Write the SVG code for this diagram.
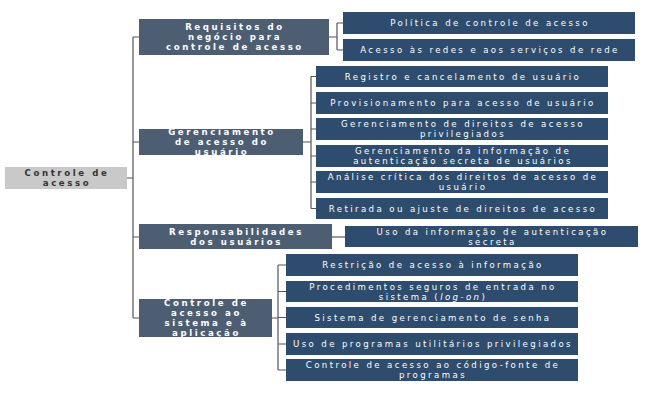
<svg xmlns="http://www.w3.org/2000/svg" width="662" height="404" viewBox="0 0 662 404">
<style>
.l1{fill:#4d5e73}
.l2{fill:#2e4c6d}
.root{fill:#c9c9c9}
text{font-family:"DejaVu Sans","Verdana",sans-serif;font-size:8.6px;letter-spacing:2.4px;text-anchor:middle;fill:#ffffff}
.b{font-weight:bold;letter-spacing:2.6px}
.dk{fill:#333333}
.c{fill:none;stroke:#555555;stroke-width:1.2}
</style>
<rect width="662" height="404" fill="#ffffff"/>
<g id="connectors">
<path class="c" d="M127 178H133M133 37V318M133 37H139M133 142H139M133 237H139M133 318H139"/>
<path class="c" d="M329 37H337M337 23V50M337 23H343M337 50H343"/>
<path class="c" d="M303 142H311M311 76.5V208.5M311 76.5H316M311 103H316M311 129H316M311 156H316M311 182H316M311 208.5H316"/>
<path class="c" d="M332 237H345"/>
<path class="c" d="M272 318H278M278 265V370M278 265H286M278 291.5H286M278 317.5H286M278 344H286M278 370H286"/>
</g>
<g id="root">
<rect class="root" x="5" y="167" width="122" height="22"/>
<text class="b dk" y="176"><tspan x="67">Controle de</tspan><tspan x="67" dy="10.1">acesso</tspan></text>
</g>
<g id="n1">
<rect class="l1" x="139" y="19" width="190" height="36"/>
<text class="b" y="30"><tspan x="235">Requisitos do</tspan><tspan x="235" dy="10.1">negócio para</tspan><tspan x="235" dy="10.1">controle de acesso</tspan></text>
</g>
<g id="n2">
<rect class="l1" x="139" y="129" width="164" height="26"/>
<text class="b" y="135"><tspan x="222">Gerenciamento</tspan><tspan x="222" dy="10.1">de acesso do</tspan><tspan x="222" dy="10.1">usuário</tspan></text>
</g>
<g id="n3">
<rect class="l1" x="139" y="224" width="193" height="25"/>
<text class="b" y="234.5"><tspan x="236.5">Responsabilidades</tspan><tspan x="236.5" dy="10.1">dos usuários</tspan></text>
</g>
<g id="n4">
<rect class="l1" x="139" y="299" width="133" height="38"/>
<text class="b" y="306"><tspan x="206.5">Controle de</tspan><tspan x="206.5" dy="10.1">acesso ao</tspan><tspan x="206.5" dy="10.1">sistema e à</tspan><tspan x="206.5" dy="10.1">aplicação</tspan></text>
</g>
<g id="n1a">
<rect class="l2" x="343" y="12" width="292" height="22"/>
<text x="490" y="26.1">Política de controle de acesso</text>
</g>
<g id="n1b">
<rect class="l2" x="343" y="39" width="292" height="22"/>
<text x="490" y="53.1">Acesso às redes e aos serviços de rede</text>
</g>
<g id="n2a">
<rect class="l2" x="316" y="66" width="292" height="21"/>
<text x="463" y="79.6">Registro e cancelamento de usuário</text>
</g>
<g id="n2b">
<rect class="l2" x="316" y="92" width="292" height="22"/>
<text x="463" y="106.1">Provisionamento para acesso de usuário</text>
</g>
<g id="n2c">
<rect class="l2" x="316" y="118" width="292" height="22"/>
<text y="127"><tspan x="463">Gerenciamento de direitos de acesso</tspan><tspan x="463" dy="10.1">privilegiados</tspan></text>
</g>
<g id="n2d">
<rect class="l2" x="316" y="145" width="292" height="22"/>
<text y="154"><tspan x="463">Gerenciamento da informação de</tspan><tspan x="463" dy="10.1">autenticação secreta de usuários</tspan></text>
</g>
<g id="n2e">
<rect class="l2" x="316" y="171" width="292" height="22"/>
<text y="180"><tspan x="463">Análise crítica dos direitos de acesso de</tspan><tspan x="463" dy="10.1">usuário</tspan></text>
</g>
<g id="n2f">
<rect class="l2" x="316" y="198" width="292" height="21"/>
<text x="463" y="211.6">Retirada ou ajuste de direitos de acesso</text>
</g>
<g id="n3a">
<rect class="l2" x="345" y="226" width="293" height="21"/>
<text y="234.5"><tspan x="492.5">Uso da informação de autenticação</tspan><tspan x="492.5" dy="10.1">secreta</tspan></text>
</g>
<g id="n4a">
<rect class="l2" x="286" y="254" width="292" height="22"/>
<text x="433" y="268.1">Restrição de acesso à informação</text>
</g>
<g id="n4b">
<rect class="l2" x="286" y="281" width="292" height="21"/>
<text y="289.5"><tspan x="433">Procedimentos seguros de entrada no</tspan><tspan x="433" dy="10.1">sistema (<tspan font-style="italic">log-on</tspan>)</tspan></text>
</g>
<g id="n4c">
<rect class="l2" x="286" y="307" width="292" height="21"/>
<text x="433" y="320.6">Sistema de gerenciamento de senha</text>
</g>
<g id="n4d">
<rect class="l2" x="286" y="333" width="292" height="22"/>
<text x="433" y="347.1">Uso de programas utilitários privilegiados</text>
</g>
<g id="n4e">
<rect class="l2" x="286" y="359" width="292" height="22"/>
<text y="368"><tspan x="433">Controle de acesso ao código-fonte de</tspan><tspan x="433" dy="10.1">programas</tspan></text>
</g>
</svg>
